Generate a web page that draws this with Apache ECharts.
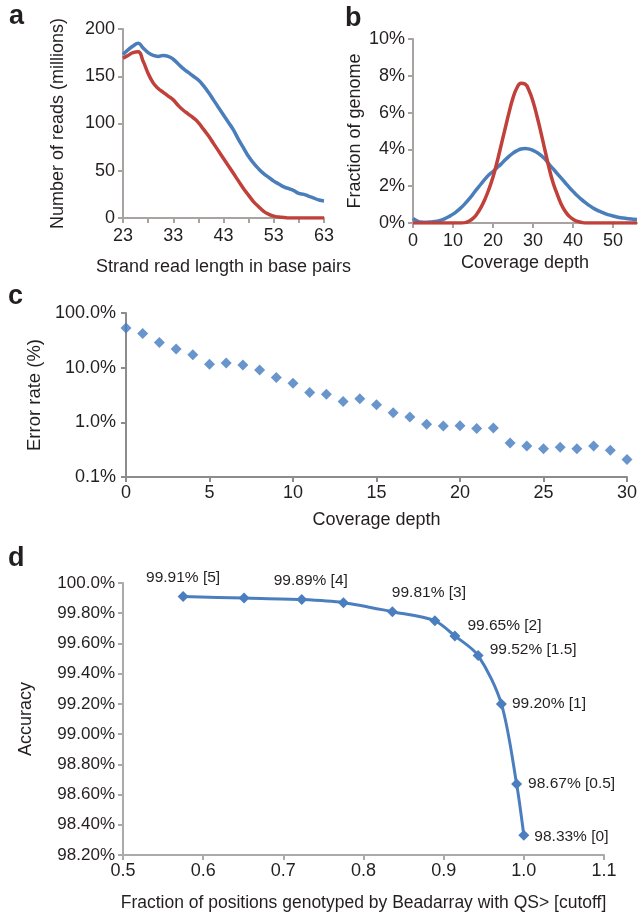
<!DOCTYPE html>
<html>
<head>
<meta charset="utf-8">
<script src="https://cdn.jsdelivr.net/npm/echarts@6/dist/echarts.min.js"></script>
<style>
  html, body { margin: 0; padding: 0; background: #fff; }
  #chart { width: 641px; height: 914px; }
</style>
</head>
<body>
<div id="chart"></div>
<script>
// panel a: reads per strand length (millions)
const readLength = [];
for (let l = 23; l <= 63; l++) readLength.push(String(l));
const readsBlue = [173, 178, 182, 185, 180, 175, 172, 171, 172, 171, 168, 163, 158, 154, 150, 146, 140, 133, 125, 117,
  109, 101, 93, 83, 74, 65, 58, 52, 47, 43, 39, 36, 33, 31, 29, 26, 25, 23, 21, 19, 18];
const readsRed = [169, 172, 175, 176, 166, 153, 143, 137, 133, 129, 125, 119, 114, 110, 106, 101, 94, 87, 79, 71,
  63, 55, 47, 39, 31, 24, 17, 12, 7, 4, 2, 1, 0.5, 0, 0, 0, 0, 0, 0, 0, 0];

// panel b: fraction of genome (%) per coverage depth 0..56
const depthB = [];
for (let d = 0; d <= 56; d++) depthB.push(d);
const genomeBlue = [0.25, 0.12, 0.05, 0.04, 0.05, 0.07, 0.1, 0.16, 0.24, 0.35, 0.48, 0.64, 0.83, 1.05, 1.3, 1.57, 1.85, 2.12, 2.38, 2.62,
  2.8, 3.0, 3.2, 3.42, 3.62, 3.8, 3.93, 4.02, 4.05, 4.02, 3.95, 3.83, 3.67, 3.48, 3.2, 2.95, 2.7, 2.45, 2.2, 1.95,
  1.72, 1.5, 1.3, 1.12, 0.96, 0.82, 0.7, 0.6, 0.51, 0.44, 0.38, 0.33, 0.29, 0.26, 0.23, 0.21, 0.19];
const genomeRed = [0, 0, 0, 0, 0, 0, 0, 0, 0, 0, 0, 0, 0, 0.02, 0.1, 0.25, 0.5, 0.85, 1.3, 1.85,
  2.5, 3.3, 4.2, 5.1, 6.0, 6.8, 7.35, 7.6, 7.55, 7.2, 6.6, 5.8, 4.9, 3.95, 3.0, 2.2, 1.6, 1.05, 0.65, 0.38,
  0.2, 0.1, 0.04, 0, 0, 0, 0, 0, 0, 0, 0, 0, 0, 0, 0, 0, 0];

// panel c: error rate (%) per coverage depth 0..30
const depthC = [];
for (let d = 0; d <= 30; d++) depthC.push(d);
const errorRate = [53, 42, 29, 22, 17.3, 11.5, 12.2, 11.2, 9.1, 6.6, 5.2, 3.5, 3.25, 2.4, 2.7, 2.1, 1.5, 1.25, 0.92, 0.86,
  0.87, 0.77, 0.79, 0.42, 0.37, 0.33, 0.35, 0.33, 0.37, 0.31, 0.21];

// panel d: accuracy vs fraction genotyped
const fracGenotyped = [0.575, 0.651, 0.723, 0.775, 0.836, 0.889, 0.914, 0.943, 0.972, 0.991, 1.0];
const accuracy = [99.91, 99.90, 99.89, 99.87, 99.81, 99.75, 99.65, 99.52, 99.20, 98.67, 98.33];
const cutoff = [5, null, 4, null, 3, null, 2, 1.5, 1, 0.5, 0];

const FONT = "'Liberation Sans', Arial, Helvetica, sans-serif";
const TXT = "#231f20";
const BLUE = "#4a7ebb";
const RED = "#c0403a";
const FS = 18;

function axisBase(color, width) {
  return {
    axisLine: { show: true, lineStyle: { color: color, width: width } },
    axisTick: { show: true, length: 5, lineStyle: { color: color, width: width } },
    splitLine: { show: false },
    axisLabel: { color: TXT, fontFamily: FONT },
    nameTextStyle: { color: TXT, fontFamily: FONT },
    nameLocation: "middle"
  };
}

// label placement for panel d
const labelPlace = [
  { position: "top", offset: [0, 0] }, null,
  { position: "top", offset: [9, 0] }, null,
  { position: "right", offset: [-11, -19] }, null,
  { position: "right", offset: [2, -10] },
  { position: "right", offset: [1, -6] },
  { position: "right", offset: [0, 0] },
  { position: "right", offset: [1, 0] },
  { position: "right", offset: [0, 1] }
];

const dData = fracGenotyped.map((x, i) => {
  const item = { value: [x, accuracy[i]] };
  if (cutoff[i] !== null) {
    item.label = Object.assign({
      show: true,
      formatter: accuracy[i].toFixed(2) + "% [" + cutoff[i] + "]",
      color: TXT, fontFamily: FONT, fontSize: 15.5
    }, labelPlace[i]);
  }
  return item;
});

const chart = echarts.init(document.getElementById("chart"), null, { renderer: "canvas" });

const letter = (t, x, y) => ({
  type: "text", left: x, top: y,
  style: { text: t, font: "bold 27px " + FONT, fill: TXT }
});

const option = {
  animation: false,
  backgroundColor: "#fff",
  graphic: [letter("a", 9, 3), letter("b", 345, 5), letter("c", 8, 283), letter("d", 8, 545)],
  grid: [
    { left: 123, top: 29, width: 201, height: 189 },
    { left: 413, top: 39, width: 224, height: 184 },
    { left: 126, top: 313, width: 501, height: 164 },
    { left: 123, top: 583, width: 481, height: 272 }
  ],
  xAxis: [
    Object.assign(axisBase("#a8a3a0", 2), {
      gridIndex: 0, type: "category", data: readLength, boundaryGap: false,
      name: "Strand read length in base pairs", nameGap: 40,
      nameTextStyle: { color: TXT, fontFamily: FONT, fontSize: FS },
      axisTick: { show: true, length: 5, interval: 4, lineStyle: { color: "#a8a3a0", width: 2 } },
      axisLabel: { color: TXT, fontFamily: FONT, fontSize: FS, interval: 9, margin: 9 }
    }),
    Object.assign(axisBase("#a8a3a0", 2), {
      gridIndex: 1, type: "value", min: 0, max: 56, interval: 10,
      name: "Coverage depth", nameGap: 31,
      nameTextStyle: { color: TXT, fontFamily: FONT, fontSize: FS },
      axisLabel: { color: TXT, fontFamily: FONT, fontSize: FS, margin: 9, showMaxLabel: false }
    }),
    Object.assign(axisBase("#8c8c8c", 2), {
      gridIndex: 2, type: "value", min: 0, max: 30, interval: 5,
      name: "Coverage depth", nameGap: 34,
      nameTextStyle: { color: TXT, fontFamily: FONT, fontSize: FS },
      axisLabel: { color: TXT, fontFamily: FONT, fontSize: FS, margin: 7 }
    }),
    Object.assign(axisBase("#aaaaaa", 2), {
      gridIndex: 3, type: "value", min: 0.5, max: 1.1, interval: 0.1,
      name: "Fraction of positions genotyped by Beadarray with QS> [cutoff]", nameGap: 39,
      nameTextStyle: { color: TXT, fontFamily: FONT, fontSize: 17.5 },
      axisLabel: { color: TXT, fontFamily: FONT, fontSize: FS, margin: 7, formatter: v => v.toFixed(1) }
    })
  ],
  yAxis: [
    Object.assign(axisBase("#a8a3a0", 2), {
      gridIndex: 0, type: "value", min: 0, max: 200, interval: 50,
      name: "Number of reads (millions)", nameGap: 56, nameRotate: 90,
      nameTextStyle: { color: TXT, fontFamily: FONT, fontSize: FS },
      axisLabel: { color: TXT, fontFamily: FONT, fontSize: FS, margin: 8 }
    }),
    Object.assign(axisBase("#a8a3a0", 2), {
      gridIndex: 1, type: "value", min: 0, max: 10, interval: 2,
      name: "Fraction of genome", nameGap: 49, nameRotate: 90,
      nameTextStyle: { color: TXT, fontFamily: FONT, fontSize: FS },
      axisLabel: { color: TXT, fontFamily: FONT, fontSize: FS, margin: 8, formatter: v => v + "%" }
    }),
    Object.assign(axisBase("#8c8c8c", 2), {
      gridIndex: 2, type: "log", logBase: 10, min: 0.1, max: 100,
      name: "Error rate (%)", nameGap: 81, nameRotate: 90,
      nameTextStyle: { color: TXT, fontFamily: FONT, fontSize: 18.5 },
      axisLabel: { color: TXT, fontFamily: FONT, fontSize: FS, margin: 10, formatter: v => Number(v).toFixed(1) + "%" }
    }),
    Object.assign(axisBase("#aaaaaa", 2), {
      gridIndex: 3, type: "value", min: 98.2, max: 100, interval: 0.2,
      name: "Accuracy", nameGap: 88, nameRotate: 90,
      nameTextStyle: { color: TXT, fontFamily: FONT, fontSize: FS },
      axisLabel: {
        color: TXT, fontFamily: FONT, fontSize: 17, margin: 8,
        formatter: v => (v >= 99.999 ? v.toFixed(1) : v.toFixed(2)) + "%"
      }
    })
  ],
  series: [
    {
      type: "line", xAxisIndex: 0, yAxisIndex: 0, data: readsBlue, smooth: true,
      showSymbol: false, lineStyle: { color: BLUE, width: 3.5 }, itemStyle: { color: BLUE }
    },
    {
      type: "line", xAxisIndex: 0, yAxisIndex: 0, data: readsRed, smooth: true,
      showSymbol: false, lineStyle: { color: RED, width: 3.5 }, itemStyle: { color: RED }
    },
    {
      type: "line", xAxisIndex: 1, yAxisIndex: 1, smooth: true,
      data: depthB.map((d, i) => [d, genomeBlue[i]]),
      showSymbol: false, lineStyle: { color: BLUE, width: 3.5 }, itemStyle: { color: BLUE }
    },
    {
      type: "line", xAxisIndex: 1, yAxisIndex: 1, smooth: true,
      data: depthB.map((d, i) => [d, genomeRed[i]]),
      showSymbol: false, lineStyle: { color: RED, width: 3.5 }, itemStyle: { color: RED }
    },
    {
      type: "scatter", xAxisIndex: 2, yAxisIndex: 2,
      data: depthC.map((d, i) => [d, errorRate[i]]),
      symbol: "diamond", symbolSize: 11, itemStyle: { color: "#437bc0" }
    },
    {
      type: "line", xAxisIndex: 3, yAxisIndex: 3, data: dData, smooth: 0.3,
      symbol: "diamond", symbolSize: 11, showSymbol: true,
      lineStyle: { color: "#4a7ebf", width: 3 }, itemStyle: { color: "#4a7ebf" },
      label: { show: false }
    }
  ]
};

chart.setOption(option);
</script>
</body>
</html>
